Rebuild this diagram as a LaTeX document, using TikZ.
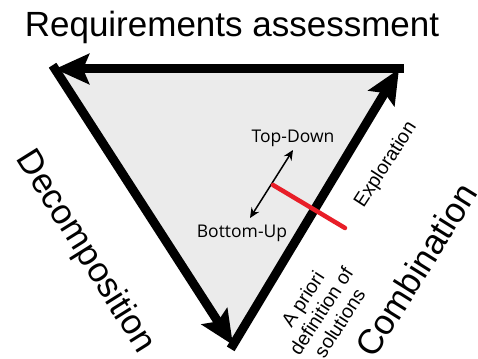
\documentclass[tikz,border=0pt]{standalone}
\usepackage{fontspec}
\setmainfont{Liberation Sans}
\newfontfamily\labelfont{Open Sans}
\usetikzlibrary{arrows.meta}
\definecolor{facegray}{RGB}{235,235,235}
\definecolor{cutred}{RGB}{232,30,40}

\begin{document}
\begin{tikzpicture}[x=1pt, y=-1pt,
    side/.style={line width=9pt, line cap=rect, -{Stealth[length=34pt, width=30pt, inset=6pt]}},
    bigtext/.style={font=\fontsize{35}{40}\selectfont},
    smalltext/.style={font=\fontsize{19.5}{22}\selectfont, align=center},
    pole/.style={font=\labelfont\fontsize{17.5}{20}\selectfont},
    twoway/.style={line width=1.5pt, >={Stealth[length=10pt, width=9pt]}, <->}]
  \useasboundingbox (0,0) rectangle (478,358);
  % corners of the triangle
  \coordinate (tl) at (55,69);
  \coordinate (tr) at (399,69);
  \coordinate (bot) at (233,345);
  \fill[facegray] (tl) -- (tr) -- (bot) -- cycle;
  \draw[side] (tr) -- (tl);
  \draw[side] (tl) -- (bot);
  \draw[side] (bot) -- (tr);

  \node[bigtext] (req) at (232,27) {Requirements assessment};
  \node[bigtext, rotate=-58] (dec) at (85,252) {Decomposition};
  \node[bigtext, rotate=58] (comb) at (416,270) {Combination};
  \node[smalltext, rotate=57] (expl) at (386,165) {Exploration};
  \node[smalltext, rotate=57] (apriori) at (321,311) {A priori\\definition of\\solutions};

  % inner direction
  \node[pole] (td) at (293,138) {Top-Down};
  \node[pole] (bu) at (242,233) {Bottom-Up};
  \coordinate (tdtip) at (293,150);
  \coordinate (butip) at (250,218);
  \draw[twoway] (butip) -- (tdtip);

  \coordinate (cutstart) at (273,185);
  \coordinate (cutend) at (345,228);
  \draw[cutred, line width=4.5pt, line cap=round] (cutstart) -- (cutend);
\end{tikzpicture}
\end{document}
